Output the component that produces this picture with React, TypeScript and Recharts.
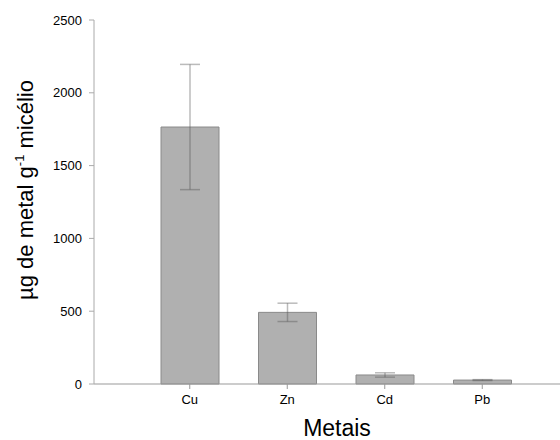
import { Bar, BarChart, ErrorBar, XAxis, YAxis } from "recharts";

const METAIS = ["Cu", "Zn", "Cd", "Pb"];
const MEDIAS = [1765, 492, 62, 27];
const ERROS = [430, 63, 15, 3];
const Y_TICKS = [0, 500, 1000, 1500, 2000, 2500];

const dados = METAIS.map((m, i) => ({ metal: m, valor: MEDIAS[i], erro: ERROS[i] }));

const FONTE = "Liberation Sans, Arial, sans-serif";

function RotuloY() {
  return (
    <text
      x={33}
      y={190}
      transform="rotate(-90 33 190)"
      textAnchor="middle"
      fontFamily={FONTE}
      fontSize={22}
      fill="#000"
    >
      <tspan>µg de metal g</tspan>
      <tspan fontSize={13} dy={-9}>-1</tspan>
      <tspan dy={9}> micélio</tspan>
    </text>
  );
}

export default function App() {
  return (
    <div style={{ position: "absolute", left: 0, top: 0 }}>
      <BarChart
        width={560}
        height={440}
        data={dados}
        margin={{ top: 20, right: 0, bottom: 0, left: 0 }}
        barCategoryGap={0}
      >
        <XAxis
          dataKey="metal"
          height={56}
          padding={{ left: 47, right: 29 }}
          axisLine={{ stroke: "#999" }}
          tickLine={{ stroke: "#999" }}
          tickSize={5}
          tickMargin={6}
          tick={{ fill: "#000", fontSize: 13, fontFamily: FONTE }}
          label={{
            value: "Metais",
            position: "insideBottom",
            offset: 4,
            dx: 10,
            fill: "#000",
            fontSize: 23,
            fontFamily: FONTE,
          }}
        />
        <YAxis
          width={94}
          domain={[0, 2500]}
          ticks={Y_TICKS}
          interval={0}
          axisLine={{ stroke: "#aaa" }}
          tickLine={{ stroke: "#aaa" }}
          tickSize={5}
          tickMargin={7}
          tick={{ fill: "#000", fontSize: 13, fontFamily: FONTE }}
          label={<RotuloY />}
        />
        <Bar
          dataKey="valor"
          fill="#b0b0b0"
          stroke="#8a8a8a"
          strokeWidth={1}
          barSize={58}
          isAnimationActive={false}
        >
          <ErrorBar dataKey="erro" width={10} stroke="#555" strokeOpacity={0.4} strokeWidth={1.5} />
        </Bar>
      </BarChart>
    </div>
  );
}
